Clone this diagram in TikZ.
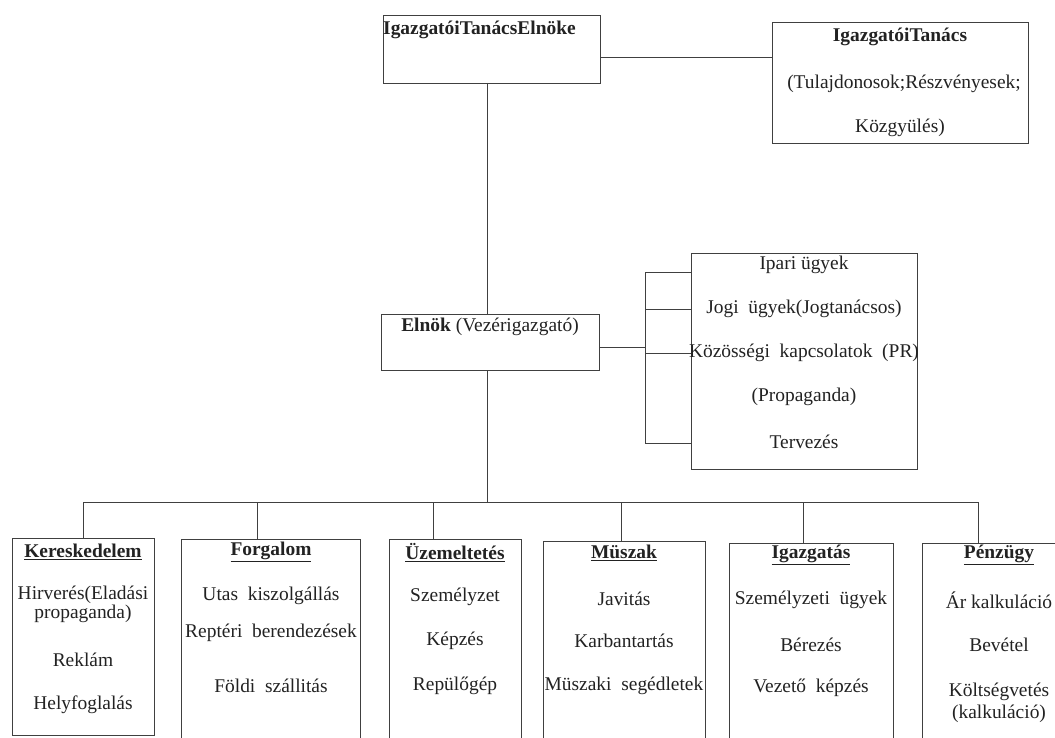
\documentclass[tikz,border=0pt]{standalone}
\usepackage{fontspec}
\setmainfont{Liberation Serif}
\definecolor{ink}{HTML}{222222}
\definecolor{rule}{HTML}{404040}
\tikzset{
  box/.style={draw=rule, line width=1bp, rectangle, inner sep=0pt, anchor=north west},
  txt/.style={text=ink, inner sep=0pt, font=\fontsize{19.5}{19.5}\selectfont},
  wire/.style={draw=rule, line width=1bp}
}
\begin{document}
\begin{tikzpicture}[x=1bp,y=-1bp]
\useasboundingbox (0,0) rectangle (1055,738);
\fill[white] (0,0) rectangle (1055,738);
\clip (0,0) rectangle (1055,738);

% top boxes
\node[box, minimum width=217bp, minimum height=68bp] (chair) at (383,15) {};
\node[txt, anchor=west] (chairT) at (383,30) {\textbf{IgazgatóiTanácsElnöke}};

\node[box, minimum width=256bp, minimum height=121bp] (board) at (772,22) {};
\node[txt] (board1) at (900,37) {\textbf{IgazgatóiTanács}};
\node[txt] (board2) at (904,84) {(Tulajdonosok;Részvényesek;};
\node[txt] (board3) at (900,128) {Közgyülés)};

% president
\node[box, minimum width=218bp, minimum height=56bp] (elnok) at (381,314) {};
\node[txt] (elnokT) at (490,327) {\textbf{Elnök} (Vezérigazgató)};

% staff box
\node[box, minimum width=226bp, minimum height=216bp] (staff) at (691,253) {};
\node[txt] (st1) at (804,265) {Ipari ügyek};
\node[txt] (st2) at (804,309) {Jogi\ \ ügyek(Jogtanácsos)};
\node[txt] (st3) at (804,353) {Közösségi\ \ kapcsolatok\ \ (PR)};
\node[txt] (st4) at (804,397) {(Propaganda)};
\node[txt] (st5) at (804,442) {Tervezés};

% department boxes
\node[box, minimum width=142bp, minimum height=197bp] (ker) at (12,538) {};
\node[box, minimum width=179bp, minimum height=210bp] (forg) at (181,539) {};
\node[box, minimum width=132bp, minimum height=210bp] (uzem) at (389,539) {};
\node[box, minimum width=162bp, minimum height=210bp] (musz) at (543,541) {};
\node[box, minimum width=164bp, minimum height=210bp] (igaz) at (729,543) {};
\node[box, minimum width=160bp, minimum height=210bp] (penz) at (922,543) {};

\node[txt] (ker0) at (83,552) {\underline{\textbf{Kereskedelem}}};
\node[txt] (ker1) at (83,595) {Hirverés(Eladási};
\node[txt] (ker2) at (83,614) {propaganda)};
\node[txt] (ker3) at (83,660) {Reklám};
\node[txt] (ker4) at (83,705) {Helyfoglalás};

\node[txt] (forg0) at (271,552) {\underline{\textbf{Forgalom}}};
\node[txt] (forg1) at (271,596) {Utas\ \ kiszolgállás};
\node[txt] (forg2) at (271,633) {Reptéri\ \ berendezések};
\node[txt] (forg3) at (271,686) {Földi\ \ szállitás};

\node[txt] (uzem0) at (455,553) {\underline{\textbf{Üzemeltetés}}};
\node[txt] (uzem1) at (455,597) {Személyzet};
\node[txt] (uzem2) at (455,641) {Képzés};
\node[txt] (uzem3) at (455,686) {Repülőgép};

\node[txt] (musz0) at (624,553) {\underline{\textbf{Müszak}}};
\node[txt] (musz1) at (624,599) {Javitás};
\node[txt] (musz2) at (624,641) {Karbantartás};
\node[txt] (musz3) at (624,686) {Müszaki\ \ segédletek};

\node[txt] (igaz0) at (811,555) {\underline{\textbf{Igazgatás}}};
\node[txt] (igaz1) at (811,600) {Személyzeti\ \ ügyek};
\node[txt] (igaz2) at (811,645) {Bérezés};
\node[txt] (igaz3) at (811,688) {Vezető\ \ képzés};

\node[txt] (penz0) at (999,555) {\underline{\textbf{Pénzügy}}};
\node[txt] (penz1) at (999,600) {Ár kalkuláció};
\node[txt] (penz2) at (999,645) {Bevétel};
\node[txt] (penz3) at (999,692) {Költségvetés};
\node[txt] (penz4) at (999,714) {(kalkuláció)};

% connectors
\coordinate (cb) at (600,58);
\draw[wire] (cb) -- (board.west |- cb);
\coordinate (cv) at (487,83);
\draw[wire] (cv) -- (cv |- elnok.north);
\coordinate (bus) at (487,502);
\draw[wire] (cv |- elnok.south) -- (bus);
\coordinate (busL) at (83,502);
\coordinate (busR) at (978,502);
\coordinate (d2) at (257,502);
\coordinate (d3) at (433,502);
\coordinate (d4) at (621,502);
\coordinate (d5) at (803,502);
\draw[wire] (busL) -- (busR);
\draw[wire] (busL) -- (busL |- ker.north);
\draw[wire] (d2) -- (d2 |- forg.north);
\draw[wire] (d3) -- (d3 |- uzem.north);
\draw[wire] (d4) -- (d4 |- musz.north);
\draw[wire] (d5) -- (d5 |- igaz.north);
\draw[wire] (busR) -- (busR |- penz.north);

% staff bracket
\coordinate (br) at (645,347);
\coordinate (brT) at (645,272);
\coordinate (brB) at (645,443);
\coordinate (brJ) at (645,309);
\coordinate (brK) at (645,353);
\draw[wire] (elnok.east |- br) -- (br);
\draw[wire] (staff.west |- brT) -- (brT) -- (brB) -- (staff.west |- brB);
\draw[wire] (brJ) -- (staff.west |- brJ);
\draw[wire] (brK) -- (staff.west |- brK);
\end{tikzpicture}
\end{document}
